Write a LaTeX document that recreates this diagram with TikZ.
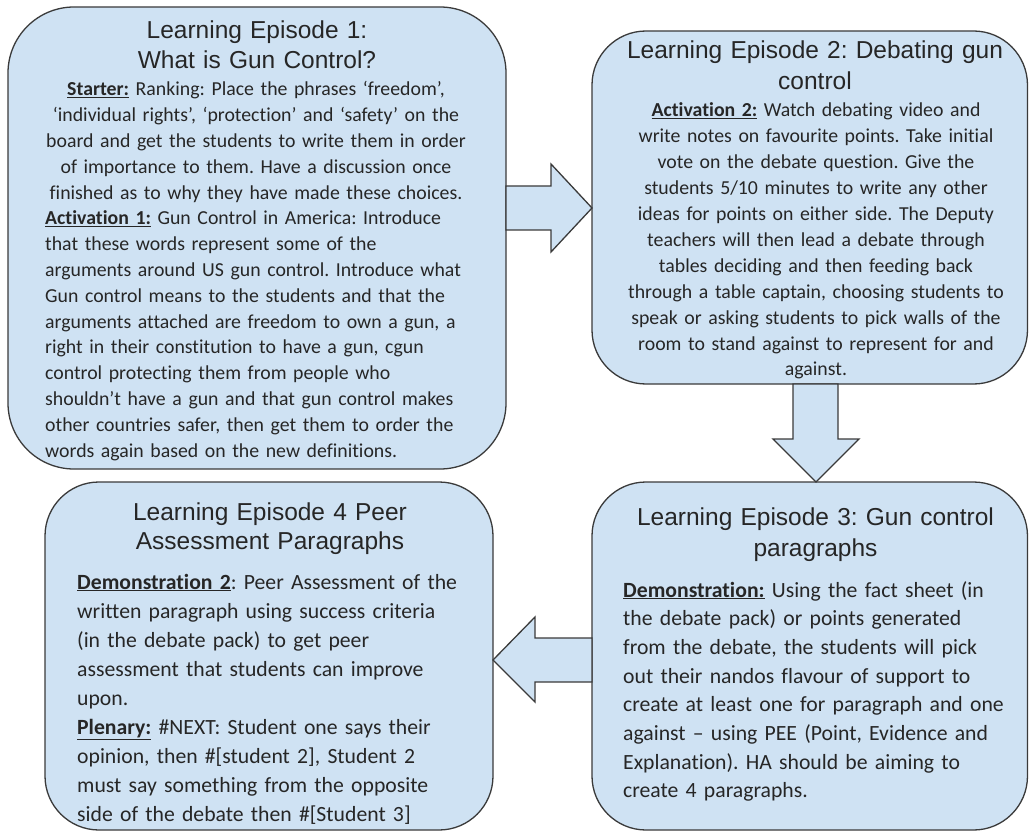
\documentclass[tikz,border=0pt]{standalone}
\usepackage{fontspec}
\setmainfont{Carlito}[Ligatures=NoCommon]
\newfontfamily\arialfont{Liberation Sans}
\definecolor{boxfill}{HTML}{CFE2F3}
\definecolor{edge}{HTML}{3A3A3A}
\definecolor{ink}{HTML}{262626}
\frenchspacing
\begin{document}
\begin{tikzpicture}[x=1pt,y=-1pt,
  box/.style={draw=edge, fill=boxfill, line width=1.3pt, inner sep=0pt, outer sep=0pt},
  ttl/.style={font=\arialfont\fontsize{24.5}{30}\selectfont, text=ink, align=center, text width=#1, inner sep=0pt, anchor=base},
  bodyS/.style={font=\frenchspacing\fontsize{19.8}{25.8}\selectfont, text=ink, inner sep=0pt},
  bodyL/.style={font=\frenchspacing\fontsize{21.7}{28.7}\selectfont, text=ink, inner sep=0pt},
  blockarrow/.style={draw=edge, fill=boxfill, line width=1.3pt, line join=miter}]
\useasboundingbox (0,0) rectangle (1029,832);
% boxes
\node[box, minimum width=498pt, minimum height=462pt, rounded corners=66pt] (b1) at (257,238) {};
\node[box, minimum width=435.5pt, minimum height=353pt, rounded corners=54pt] (b2) at (809.75,207.5) {};
\node[box, minimum width=435.5pt, minimum height=348pt, rounded corners=54pt] (b3) at (809.75,656) {};
\node[box, minimum width=448pt, minimum height=348pt, rounded corners=54pt] (b4) at (269,656) {};
% arrows
\draw[blockarrow] (b1.east |- 0,186) -- (551,186) -- (551,164) -- (b2.west |- 0,208) -- (551,252) -- (551,230) -- (b1.east |- 0,230) -- cycle;
\draw[blockarrow] (b2.south -| 793,0) -- (793,439) -- (773,439) -- (b3.north -| 816,0) -- (859,439) -- (838,439) -- (b2.south -| 838,0) -- cycle;
\draw[blockarrow] (b3.west |- 0,638) -- (535,638) -- (535,617) -- (b4.east |- 0,660) -- (535,702) -- (535,682) -- (b3.west |- 0,682) -- cycle;
% box 1
\node[ttl=460pt] (t1) at (257,39) {Learning Episode 1:\\What is Gun Control?};
\node[bodyS, text width=470pt, align=center, anchor=base] (s1) at (256,96) {\underline{\textbf{Starter:}} Ranking: Place the phrases ‘freedom’,\\
‘individual rights’, ‘protection’ and ‘safety’ on the\\
board and get the students to write them in order\\
of importance to them. Have a discussion once\\
finished as to why they have made these choices.};
\node[bodyS, text width=455pt, align=left, anchor=base west] (a1) at (45,225) {\underline{\textbf{Activation 1:}} Gun Control in America: Introduce\\
that these words represent some of the\\
arguments around US gun control. Introduce what\\
Gun control means to the students and that the\\
arguments attached are freedom to own a gun, a\\
right in their constitution to have a gun, cgun\\
control protecting them from people who\\
shouldn’t have a gun and that gun control makes\\
other countries safer, then get them to order the\\
words again based on the new definitions.};
% box 2
\node[ttl=430pt, font=\arialfont\fontsize{24.5}{31}\selectfont] (t2) at (815,59) {Learning Episode 2: Debating gun\\control};
\node[bodyS, font=\fontsize{19.8}{25.9}\selectfont, text width=430pt, align=center, anchor=base] (s2) at (816,117) {\underline{\textbf{Activation 2:}} Watch debating video and\\
write notes on favourite points. Take initial\\
vote on the debate question. Give the\\
students 5/10 minutes to write any other\\
ideas for points on either side. The Deputy\\
teachers will then lead a debate through\\
tables deciding and then feeding back\\
through a table captain, choosing students to\\
speak or asking students to pick walls of the\\
room to stand against to represent for and\\
against.};
% box 3
\node[ttl=430pt, font=\arialfont\fontsize{24.5}{31}\selectfont] (t3) at (815.5,525) {Learning Episode 3: Gun control\\paragraphs};
\node[bodyL, text width=400pt, align=left, anchor=base west] (s3) at (623,597) {\underline{\textbf{Demonstration:}} Using the fact sheet (in\\
the debate pack) or points generated\\
from the debate, the students will pick\\
out their nandos flavour of support to\\
create at least one for paragraph and one\\
against – using PEE (Point, Evidence and\\
Explanation). HA should be aiming to\\
create 4 paragraphs.};
% box 4
\node[ttl=440pt, font=\arialfont\fontsize{24.5}{29.5}\selectfont] (t4) at (270,520) {Learning Episode 4 Peer\\Assessment Paragraphs};
\node[bodyL, font=\fontsize{21.7}{29}\selectfont, text width=410pt, align=left, anchor=base west] (s4) at (77,589) {\underline{\textbf{Demonstration 2}}: Peer Assessment of the\\
written paragraph using success criteria\\
(in the debate pack) to get peer\\
assessment that students can improve\\
upon.\\
\underline{\textbf{Plenary:}} \#NEXT: Student one says their\\
opinion, then \#[student 2], Student 2\\
must say something from the opposite\\
side of the debate then \#[Student 3]};
\end{tikzpicture}
\end{document}
